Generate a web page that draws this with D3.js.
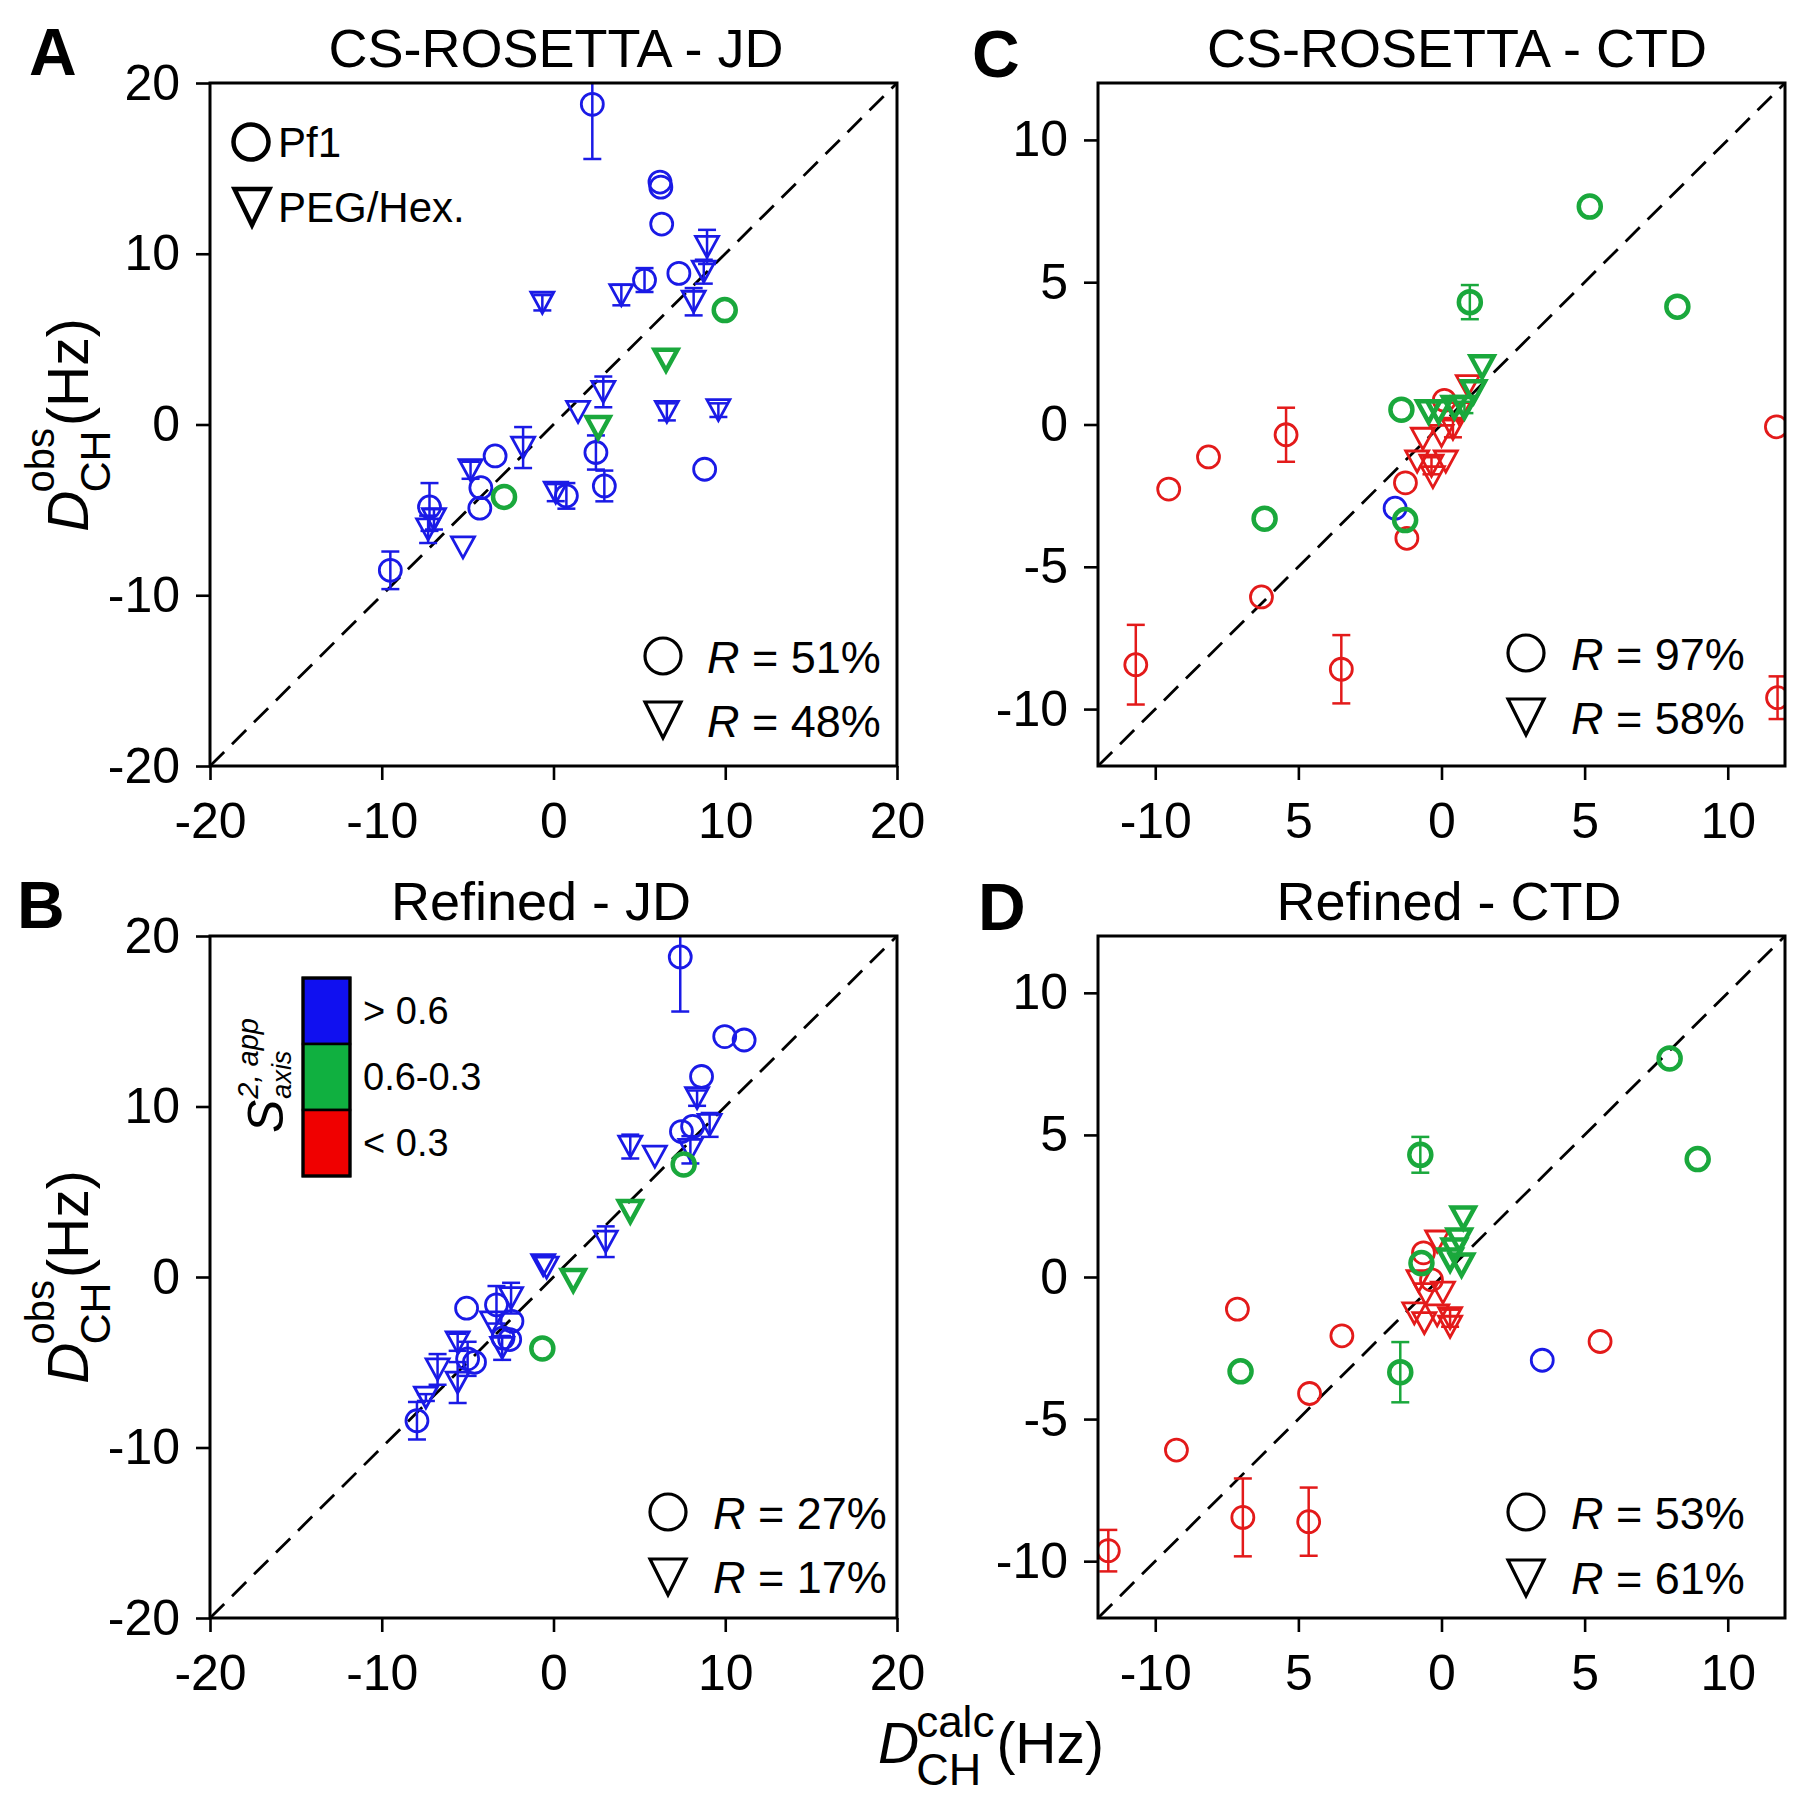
<!DOCTYPE html>
<html><head><meta charset="utf-8">
<script src="https://cdn.jsdelivr.net/npm/d3@7"></script>
<style>
body{margin:0;background:#fff;}
text{font-family:"Liberation Sans",Arial,Helvetica,sans-serif;fill:#000;}
</style>
</head><body>
<svg id="c" width="1800" height="1806"></svg>
<script>
// ---------- DATA: [D_calc, D_obs, error, order-parameter class] ----------
// class: hi = S2 > 0.6 (blue), mid = 0.6-0.3 (green), lo = < 0.3 (red)
const csJdCircles = [
  [2.26,18.75,3.2,'hi'],[6.2,14.2,0,'hi'],[6.25,13.9,0,'hi'],[6.3,11.74,0,'hi'],
  [5.3,8.46,0.7,'hi'],[7.3,8.85,0,'hi'],[9.97,6.7,0,'mid'],[2.47,-1.64,1.0,'hi'],
  [8.8,-2.62,0,'hi'],[-3.4,-1.84,0,'hi'],[-4.23,-3.7,0,'hi'],[-4.29,-4.9,0,'hi'],
  [-2.88,-4.24,0,'mid'],[0.75,-4.18,0.75,'hi'],[2.96,-3.6,0.9,'hi'],
  [-7.22,-4.83,1.4,'hi'],[-9.5,-8.54,1.1,'hi']
];
const csJdTriangles = [
  [8.94,10.4,1.0,'hi'],[8.75,8.95,0.7,'hi'],[3.95,7.58,0.6,'hi'],[-0.65,7.13,0.45,'hi'],
  [8.16,7.19,0.8,'hi'],[6.55,3.77,0,'mid'],[2.9,1.91,0.9,'hi'],[1.43,0.74,0,'hi'],
  [6.6,0.74,0.5,'hi'],[9.6,0.84,0.4,'hi'],[2.6,-0.18,0,'mid'],[-1.77,-1.35,1.2,'hi'],
  [-4.83,-2.68,0.5,'hi'],[0.13,-3.99,0.5,'hi'],[-6.96,-5.55,0.6,'hi'],
  [-7.3,-6.14,0.8,'hi'],[-5.27,-7.2,0,'hi']
];
const refJdCircles = [
  [7.38,18.77,3.2,'hi'],[9.97,14.1,0,'hi'],[11.1,13.9,0,'hi'],[8.62,11.76,0,'hi'],
  [7.45,8.53,0,'hi'],[8.1,8.83,0,'hi'],[7.58,6.6,0,'mid'],[-0.65,-4.19,0,'mid'],
  [-5.06,-1.83,0,'hi'],[-3.32,-1.63,1.1,'hi'],[-2.42,-2.6,0,'hi'],[-2.94,-3.57,0,'hi'],
  [-2.55,-3.67,0,'hi'],[-5.0,-4.8,1.0,'hi'],[-4.6,-5.0,0,'hi'],[-7.95,-8.43,1.1,'hi']
];
const refJdTriangles = [
  [8.36,10.49,0.45,'hi'],[9.09,8.92,0.7,'hi'],[4.47,7.65,0.7,'hi'],[5.9,7.06,0,'hi'],
  [7.97,7.46,0.8,'hi'],[4.47,3.84,0,'mid'],[3.04,2.07,0.9,'hi'],[-0.6,0.7,0,'hi'],
  [-0.4,0.55,0,'hi'],[1.15,-0.2,0,'mid'],[-2.47,-1.24,0.9,'hi'],[-3.58,-2.66,0,'hi'],
  [-2.99,-4.16,0.7,'hi'],[-5.58,-3.83,0.5,'hi'],[-6.75,-5.42,0.9,'hi'],
  [-5.58,-6.19,1.2,'hi'],[-7.43,-7.07,0.2,'hi']
];
const csCtdCircles = [
  [5.18,7.66,0,'mid'],[0.99,4.3,0.6,'mid'],[8.24,4.14,0,'mid'],[-1.4,0.52,0,'mid'],
  [0.1,0.85,0,'lo'],[11.7,-0.08,0,'lo'],[-5.43,-0.36,0.95,'lo'],[-8.14,-1.14,0,'lo'],
  [-9.53,-2.27,0,'lo'],[-6.18,-3.31,0,'mid'],[-1.26,-2.05,0,'lo'],[-1.62,-2.94,0,'hi'],
  [-1.27,-3.36,0,'mid'],[-1.21,-4.0,0,'lo'],[-6.29,-6.06,0,'lo'],
  [-10.68,-8.44,1.4,'lo'],[-3.5,-8.6,1.2,'lo'],[11.74,-9.6,0.75,'lo']
];
const csCtdTriangles = [
  [0.92,1.35,0,'lo'],[0.6,0.4,0,'lo'],[0.4,-0.15,0.3,'lo'],[0.0,-0.4,0,'lo'],
  [-0.65,-0.5,0,'lo'],[-0.85,-1.3,0,'lo'],[-0.35,-1.45,0.3,'lo'],[0.15,-1.3,0,'lo'],
  [-0.3,-1.85,0,'lo'],
  [1.42,2.03,0,'mid'],[1.12,1.15,0,'mid'],[0.8,0.6,0.2,'mid'],[0.45,0.6,0,'mid'],
  [-0.1,0.45,0,'mid'],[-0.45,0.45,0,'mid']
];
const refCtdCircles = [
  [7.97,7.69,0,'mid'],[-0.74,4.3,0.63,'mid'],[8.95,4.15,0,'mid'],[-7.13,-1.13,0,'lo'],
  [-7.02,-3.32,0,'mid'],[-3.48,-2.07,0,'lo'],[5.54,-2.27,0,'lo'],[3.52,-2.93,0,'hi'],
  [-1.44,-3.35,1.06,'mid'],[-4.61,-4.1,0,'lo'],[-9.26,-6.09,0,'lo'],
  [-6.94,-8.46,1.37,'lo'],[-4.64,-8.61,1.2,'lo'],[-11.64,-9.63,0.73,'lo'],
  [-0.63,0.85,0,'lo'],[-0.7,0.49,0,'mid'],[-0.35,-0.1,0,'lo']
];
const refCtdTriangles = [
  [-0.15,1.25,0,'lo'],[-0.8,-0.15,0,'lo'],[-0.55,-0.6,0,'lo'],[0.05,-0.55,0,'lo'],
  [-0.95,-1.28,0,'lo'],[-0.6,-1.62,0,'lo'],[-0.15,-1.35,0,'lo'],[0.3,-1.45,0.3,'lo'],
  [0.3,-1.75,0,'lo'],
  [0.76,2.08,0,'mid'],[0.62,1.3,0,'mid'],[0.45,0.95,0,'mid'],[0.3,0.6,0,'mid'],[0.7,0.42,0,'mid']
];

const jdTicks = [-20,-10,0,10,20];
const jdTickLabels = ['-20','-10','0','10','20'];
const ctdTicks = [-10,-5,0,5,10];
const ctdXTickLabels = ['-10','5','0','5','10'];
const ctdYTickLabels = ['-10','-5','0','5','10'];
const panelLetters = ['A','B','C','D'];
const panelTitles = ['CS-ROSETTA - JD','Refined - JD','CS-ROSETTA - CTD','Refined - CTD'];
const rCircleLabels = ['51%','27%','97%','53%'];
const rTriangleLabels = ['48%','17%','58%','61%'];
const sClassKeys = ['hi','mid','lo'];
const sClassLabels = ['> 0.6','0.6-0.3','< 0.3'];
const alignLabels = ['Pf1','PEG/Hex.'];

// ---------- STYLE ----------
const markColor = {hi:'#1a1ae6', mid:'#1aa83c', lo:'#e31a1a'};
const boxColor = {hi:'#1010f0', mid:'#10b040', lo:'#f00000'};
const markWidth = {hi:2.8, mid:4.5, lo:2.8};
const drawOrder = {lo:0, hi:1, mid:2};

const svg = d3.select('#c');

const layouts = [
  {box:[210,83,897,766], dom:[-20,20], ticks:jdTicks, xl:jdTickLabels, yl:jdTickLabels,
   letter:[29,75], title:[556,67], leg:{cx:663,cy1:656,cy2:720,tx:707,b1:673,b2:737}},
  {box:[210,936,897,1618], dom:[-20,20], ticks:jdTicks, xl:jdTickLabels, yl:jdTickLabels,
   letter:[17,928], title:[541,920], leg:{cx:668,cy1:1512,cy2:1577,tx:713,b1:1529,b2:1593}},
  {box:[1098,83,1785,766], dom:[-12,12], ticks:ctdTicks, xl:ctdXTickLabels, yl:ctdYTickLabels,
   letter:[972,77], title:[1457,67], leg:{cx:1526,cy1:653,cy2:717,tx:1571,b1:670,b2:734}},
  {box:[1098,936,1785,1618], dom:[-12,12], ticks:ctdTicks, xl:ctdXTickLabels, yl:ctdYTickLabels,
   letter:[978,930], title:[1449,920], leg:{cx:1526,cy1:1512,cy2:1578,tx:1571,b1:1529,b2:1594}}
];
const panelData = [
  [csJdCircles, csJdTriangles],
  [refJdCircles, refJdTriangles],
  [csCtdCircles, csCtdTriangles],
  [refCtdCircles, refCtdTriangles]
];

function triPath(cx, cy, hw, h) {
  return `M${cx-hw},${cy-h/2}L${cx+hw},${cy-h/2}L${cx},${cy+h/2}Z`;
}

layouts.forEach((L, pi) => {
  const [x0,y0,x1,y1] = L.box;
  const x = d3.scaleLinear().domain(L.dom).range([x0,x1]);
  const y = d3.scaleLinear().domain(L.dom).range([y1,y0]);
  const g = svg.append('g');
  const cid = 'clip' + pi;
  svg.append('clipPath').attr('id', cid).append('rect')
    .attr('x', x0).attr('y', y0).attr('width', x1-x0).attr('height', y1-y0);

  // diagonal y = x
  g.append('line')
    .attr('x1', x(L.dom[0])).attr('y1', y(L.dom[0]))
    .attr('x2', x(L.dom[1])).attr('y2', y(L.dom[1]))
    .attr('stroke', '#000').attr('stroke-width', 2.8).attr('stroke-dasharray', '20,11');

  // axes
  const xa = g.append('g').attr('transform', `translate(0,${y1})`)
    .call(d3.axisBottom(x).tickValues(L.ticks).tickFormat((d,i)=>L.xl[i]).tickSize(14).tickPadding(22));
  const ya = g.append('g').attr('transform', `translate(${x0},0)`)
    .call(d3.axisLeft(y).tickValues(L.ticks).tickFormat((d,i)=>L.yl[i]).tickSize(14).tickPadding(16));
  [xa, ya].forEach(a => {
    a.select('.domain').remove();
    a.selectAll('line').attr('stroke', '#000').attr('stroke-width', 2.6);
    a.selectAll('text').attr('font-size', 50).attr('fill', '#000')
      .attr('font-family', '"Liberation Sans",Arial,sans-serif');
  });

  // points
  const [circles, tris] = panelData[pi];
  const pts = [];
  circles.forEach(d => pts.push({x:d[0], y:d[1], e:d[2], c:d[3], s:'o'}));
  tris.forEach(d => pts.push({x:d[0], y:d[1], e:d[2], c:d[3], s:'v'}));
  pts.sort((a,b) => drawOrder[a.c] - drawOrder[b.c]);
  const pg = g.append('g').attr('clip-path', `url(#${cid})`).attr('fill', 'none');
  pts.forEach(p => {
    const col = markColor[p.c], sw = markWidth[p.c];
    const cx = x(p.x), cy = y(p.y);
    if (p.e > 0) {
      const ya1 = y(p.y + p.e), ya2 = y(p.y - p.e);
      pg.append('line').attr('x1',cx).attr('x2',cx).attr('y1',ya1).attr('y2',ya2)
        .attr('stroke',col).attr('stroke-width',2.5);
      [ya1, ya2].forEach(yy => pg.append('line').attr('x1',cx-9).attr('x2',cx+9)
        .attr('y1',yy).attr('y2',yy).attr('stroke',col).attr('stroke-width',2.5));
    }
    if (p.s === 'o') {
      pg.append('circle').attr('cx',cx).attr('cy',cy).attr('r',11)
        .attr('stroke',col).attr('stroke-width',sw).attr('fill','none');
    } else {
      pg.append('path').attr('d', triPath(cx, cy, 11.5, 21))
        .attr('stroke',col).attr('stroke-width',sw).attr('stroke-linejoin','miter').attr('fill','none');
    }
  });

  // frame
  g.append('rect').attr('x',x0).attr('y',y0).attr('width',x1-x0).attr('height',y1-y0)
    .attr('fill','none').attr('stroke','#000').attr('stroke-width',3);

  // letter and title
  svg.append('text').attr('x',L.letter[0]).attr('y',L.letter[1])
    .attr('font-size',66).attr('font-weight','bold').text(panelLetters[pi]);
  svg.append('text').attr('x',L.title[0]).attr('y',L.title[1]).attr('text-anchor','middle')
    .attr('font-size',54).text(panelTitles[pi]);

  // R legend
  const lg = L.leg;
  svg.append('circle').attr('cx',lg.cx).attr('cy',lg.cy1).attr('r',18)
    .attr('fill','none').attr('stroke','#000').attr('stroke-width',3.2);
  svg.append('path').attr('d', triPath(lg.cx, lg.cy2, 18, 36))
    .attr('fill','none').attr('stroke','#000').attr('stroke-width',3.2);
  [[lg.b1, rCircleLabels[pi]], [lg.b2, rTriangleLabels[pi]]].forEach(([b, lab]) => {
    const t = svg.append('text').attr('x', lg.tx).attr('y', b).attr('font-size', 45);
    t.append('tspan').attr('font-style','italic').text('R');
    t.append('tspan').text(' = ' + lab);
  });
});

// Alignment medium legend (panel A)
svg.append('circle').attr('cx',251).attr('cy',142).attr('r',17.5)
  .attr('fill','none').attr('stroke','#000').attr('stroke-width',4.5);
svg.append('text').attr('x',278).attr('y',157).attr('font-size',42).text(alignLabels[0]);
svg.append('path').attr('d', triPath(252, 207, 17.5, 36))
  .attr('fill','none').attr('stroke','#000').attr('stroke-width',4.5);
svg.append('text').attr('x',278).attr('y',222).attr('font-size',42).text(alignLabels[1]);

// Order parameter colour legend (panel B)
const segH = 66, bx = 303, by = 978, bw = 47;
sClassKeys.forEach((k, i) => {
  svg.append('rect').attr('x',bx).attr('y',by+i*segH).attr('width',bw).attr('height',segH)
    .attr('fill',boxColor[k]).attr('stroke','#000').attr('stroke-width',2.5);
  svg.append('text').attr('x',363).attr('y',by+i*segH+segH/2+13).attr('font-size',38).text(sClassLabels[i]);
});
svg.append('rect').attr('x',bx).attr('y',by).attr('width',bw).attr('height',segH*3)
  .attr('fill','none').attr('stroke','#000').attr('stroke-width',3.2);
{
  const sg = svg.append('g').attr('transform','translate(283,1133) rotate(-90)');
  const s = sg.append('text').attr('font-size',50).attr('font-style','italic').text('S');
  const sw = s.node().getComputedTextLength();
  sg.append('text').attr('x',sw+1).attr('y',-25).attr('font-size',29).attr('font-style','italic').text('2, app');
  sg.append('text').attr('x',sw+1).attr('y',8).attr('font-size',27).attr('font-style','italic').text('axis');
}

// compound axis labels
function compoundLabel(transform, o) {
  const outer = svg.append('g').attr('transform', transform);
  const g = outer.append('g');
  const tm = g.append('text').attr('font-size',o.fMain).attr('font-style','italic').text(o.main);
  const xs = tm.node().getComputedTextLength() + o.gap;
  const tsup = g.append('text').attr('x',xs).attr('y',o.supDy).attr('font-size',o.fSup).text(o.sup);
  const tsub = g.append('text').attr('x',xs).attr('y',o.subDy).attr('font-size',o.fSub).text(o.sub);
  const w2 = Math.max(tsup.node().getComputedTextLength(), tsub.node().getComputedTextLength());
  const xt = xs + w2 + o.gap2;
  const tt = g.append('text').attr('x',xt).attr('font-size',o.fMain).text(o.tail);
  const total = xt + tt.node().getComputedTextLength();
  g.attr('transform', `translate(${-total/2},0)`);
}
compoundLabel('translate(991,1763)',
  {main:'D', sup:'calc', sub:'CH', tail:'(Hz)', fMain:57, fSup:44, fSub:45, supDy:-26, subDy:22, gap:-3, gap2:2});
[425, 1277].forEach(cy => compoundLabel(`translate(88,${cy}) rotate(-90)`,
  {main:'D', sup:'obs', sub:'CH', tail:'(Hz)', fMain:57, fSup:40, fSub:43, supDy:-34, subDy:22, gap:-2, gap2:2}));
</script>
</body></html>
